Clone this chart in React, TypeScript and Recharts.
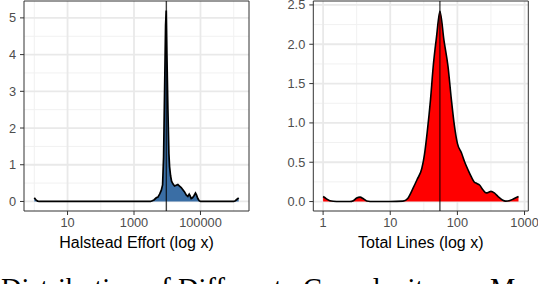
import React from 'react';
import { AreaChart, Area, XAxis, YAxis, CartesianGrid, ReferenceLine, ReferenceArea } from 'recharts';

// Halstead Effort density (x stored as log10 of effort)
const effortLog10 = [0, 0.05, 0.1, 0.15, 0.3, 1, 2, 3, 3.5, 3.6, 3.67, 3.72, 3.77, 3.82, 3.86, 3.89, 3.92, 3.95, 3.97, 3.99, 4.02, 4.05, 4.07, 4.1, 4.13, 4.17, 4.22, 4.27, 4.32, 4.37, 4.42, 4.47, 4.52, 4.57, 4.62, 4.66, 4.69, 4.72, 4.76, 4.8, 4.85, 4.88, 4.92, 4.96, 5.0, 5.5, 6.0, 6.05, 6.1, 6.15];
const effortDensity = [0.1, 0.04, 0.01, 0, 0, 0, 0, 0, 0, 0.04, 0.1, 0.12, 0.2, 0.3, 0.45, 1.2, 3.0, 4.8, 5.2, 4.0, 2.5, 1.3, 0.95, 0.7, 0.55, 0.48, 0.42, 0.44, 0.46, 0.42, 0.38, 0.32, 0.26, 0.18, 0.14, 0.2, 0.15, 0.08, 0.1, 0.15, 0.23, 0.18, 0.08, 0.02, 0, 0, 0, 0.02, 0.06, 0.1];
const effortMedianLog10 = 3.97;
const effortXTicks = [1, 3, 5];
const effortXLabels = ['10', '1000', '100000'];
const effortXMinor = [0, 2, 4, 6];
const effortYTicks = [0, 1, 2, 3, 4, 5];
const effortYLabels = ['0', '1', '2', '3', '4', '5'];
const effortYMinor = [0.5, 1.5, 2.5, 3.5, 4.5];

// Total Lines density (x stored as log10 of lines)
const linesLog10 = [0, 0.05, 0.1, 0.2, 0.4, 0.45, 0.5, 0.55, 0.6, 0.65, 0.75, 1.0, 1.19, 1.26, 1.34, 1.4, 1.47, 1.51, 1.55, 1.6, 1.64, 1.69, 1.74, 1.8, 1.86, 1.91, 1.95, 2.0, 2.06, 2.11, 2.16, 2.21, 2.25, 2.29, 2.33, 2.38, 2.43, 2.47, 2.5, 2.55, 2.61, 2.67, 2.72, 2.77, 2.84, 2.91];
const linesDensity = [0.064, 0.035, 0.01, 0, 0, 0.01, 0.045, 0.056, 0.035, 0.008, 0, 0, 0.005, 0.04, 0.17, 0.28, 0.42, 0.6, 0.88, 1.3, 1.72, 2.1, 2.42, 2.05, 1.72, 1.3, 1.0, 0.74, 0.62, 0.5, 0.4, 0.31, 0.25, 0.23, 0.21, 0.15, 0.11, 0.12, 0.13, 0.11, 0.06, 0.02, 0.005, 0.01, 0.035, 0.064];
const linesMedianLog10 = 1.74;
const linesXTicks = [0, 1, 2, 3];
const linesXLabels = ['1', '10', '100', '1000'];
const linesXMinor = [0.5, 1.5, 2.5];
const linesYTicks = [0, 0.5, 1, 1.5, 2, 2.5];
const linesYLabels = ['0.0', '0.5', '1.0', '1.5', '2.0', '2.5'];
const linesYMinor = [0.25, 0.75, 1.25, 1.75, 2.25];

const captionWords = ['Distribution', 'of', 'Different', 'Complexity', 'Measures'];
const captionWordX = [1, 147, 178, 303, 490];

const sans = '"Liberation Sans", Arial, sans-serif';
const serif = '"Liberation Serif", "Times New Roman", serif';

const effortData = effortLog10.map((x, i) => ({ x, y: effortDensity[i] }));
const linesData = linesLog10.map((x, i) => ({ x, y: linesDensity[i] }));

type PanelProps = {
  data: { x: number; y: number }[];
  xDomain: [number, number];
  yDomain: [number, number];
  xTicks: number[];
  xLabels: string[];
  xMinor: number[];
  yTicks: number[];
  yLabels: string[];
  yMinor: number[];
  median: number;
  fill: string;
  title: string;
  width: number;
  yAxisWidth: number;
  rightMargin: number;
  curve: 'linear' | 'monotone';
  strokeWidth: number;
};

function DensityPanel(p: PanelProps) {
  return (
    <AreaChart width={p.width} height={260} data={p.data} margin={{ top: 1, right: p.rightMargin, left: 0, bottom: 0 }}>
      <CartesianGrid stroke="#f1f1f1" strokeWidth={1} verticalValues={p.xMinor} horizontalValues={p.yMinor} />
      <CartesianGrid stroke="#e9e9e9" strokeWidth={1.8} verticalValues={p.xTicks} horizontalValues={p.yTicks} />
      <XAxis
        type="number"
        dataKey="x"
        domain={p.xDomain}
        ticks={p.xTicks}
        interval={0}
        allowDataOverflow
        tickFormatter={(v: number) => p.xLabels[p.xTicks.indexOf(v)]}
        axisLine={false}
        tickLine={{ stroke: '#333333' }}
        tickSize={4}
        tickMargin={3}
        height={49}
        tick={{ fill: '#4d4d4d', fontSize: 12.8, fontFamily: sans }}
        label={{ value: p.title, position: 'insideBottom', offset: 12, fill: '#000000', fontSize: 16, fontFamily: sans }}
      />
      <YAxis
        type="number"
        domain={p.yDomain}
        ticks={p.yTicks}
        interval={0}
        allowDataOverflow
        tickFormatter={(v: number) => p.yLabels[p.yTicks.indexOf(v)]}
        axisLine={false}
        tickLine={{ stroke: '#333333' }}
        tickSize={4}
        tickMargin={4}
        width={p.yAxisWidth}
        tick={{ fill: '#4d4d4d', fontSize: 12.8, fontFamily: sans }}
      />
      <Area
        type={p.curve}
        dataKey="y"
        baseValue={0}
        fill={p.fill}
        fillOpacity={1}
        stroke="#000000"
        strokeWidth={p.strokeWidth}
        isAnimationActive={false}
        dot={false}
        activeDot={false}
      />
      <ReferenceLine x={p.median} stroke="#000000" strokeWidth={1} />
      <ReferenceArea x1={p.xDomain[0]} x2={p.xDomain[1]} y1={p.yDomain[0]} y2={p.yDomain[1]} fill="none" stroke="#333333" strokeWidth={1} />
    </AreaChart>
  );
}

export default function App() {
  return (
    <div style={{ position: 'absolute', left: 0, top: 0, width: 538, height: 284, overflow: 'hidden', background: '#ffffff' }}>
      <div style={{ position: 'absolute', left: 0, top: 0 }}>
        <DensityPanel
          data={effortData}
          xDomain={[-0.31, 6.46]}
          yDomain={[-0.26, 5.46]}
          xTicks={effortXTicks}
          xLabels={effortXLabels}
          xMinor={effortXMinor}
          yTicks={effortYTicks}
          yLabels={effortYLabels}
          yMinor={effortYMinor}
          median={effortMedianLog10}
          fill="#3a6ea5"
          title="Halstead Effort (log x)"
          width={260}
          yAxisWidth={24}
          rightMargin={11}
          curve="linear"
          strokeWidth={1.7}
        />
      </div>
      <div style={{ position: 'absolute', left: 260, top: 0 }}>
        <DensityPanel
          data={linesData}
          xDomain={[-0.146, 3.056]}
          yDomain={[-0.12, 2.55]}
          xTicks={linesXTicks}
          xLabels={linesXLabels}
          xMinor={linesXMinor}
          yTicks={linesYTicks}
          yLabels={linesYLabels}
          yMinor={linesYMinor}
          median={linesMedianLog10}
          fill="#ff0000"
          title="Total Lines (log x)"
          width={278}
          yAxisWidth={53.3}
          rightMargin={9.7}
          curve="monotone"
          strokeWidth={1.6}
        />
      </div>
      <svg width={538} height={284} style={{ position: 'absolute', left: 0, top: 0, pointerEvents: 'none' }}>
        <text y={297.5} fontFamily={serif} fontSize={28.5} fill="#000000">
          {captionWords.map((w, i) => (
            <tspan key={w} x={captionWordX[i]}>{w}</tspan>
          ))}
        </text>
      </svg>
    </div>
  );
}
